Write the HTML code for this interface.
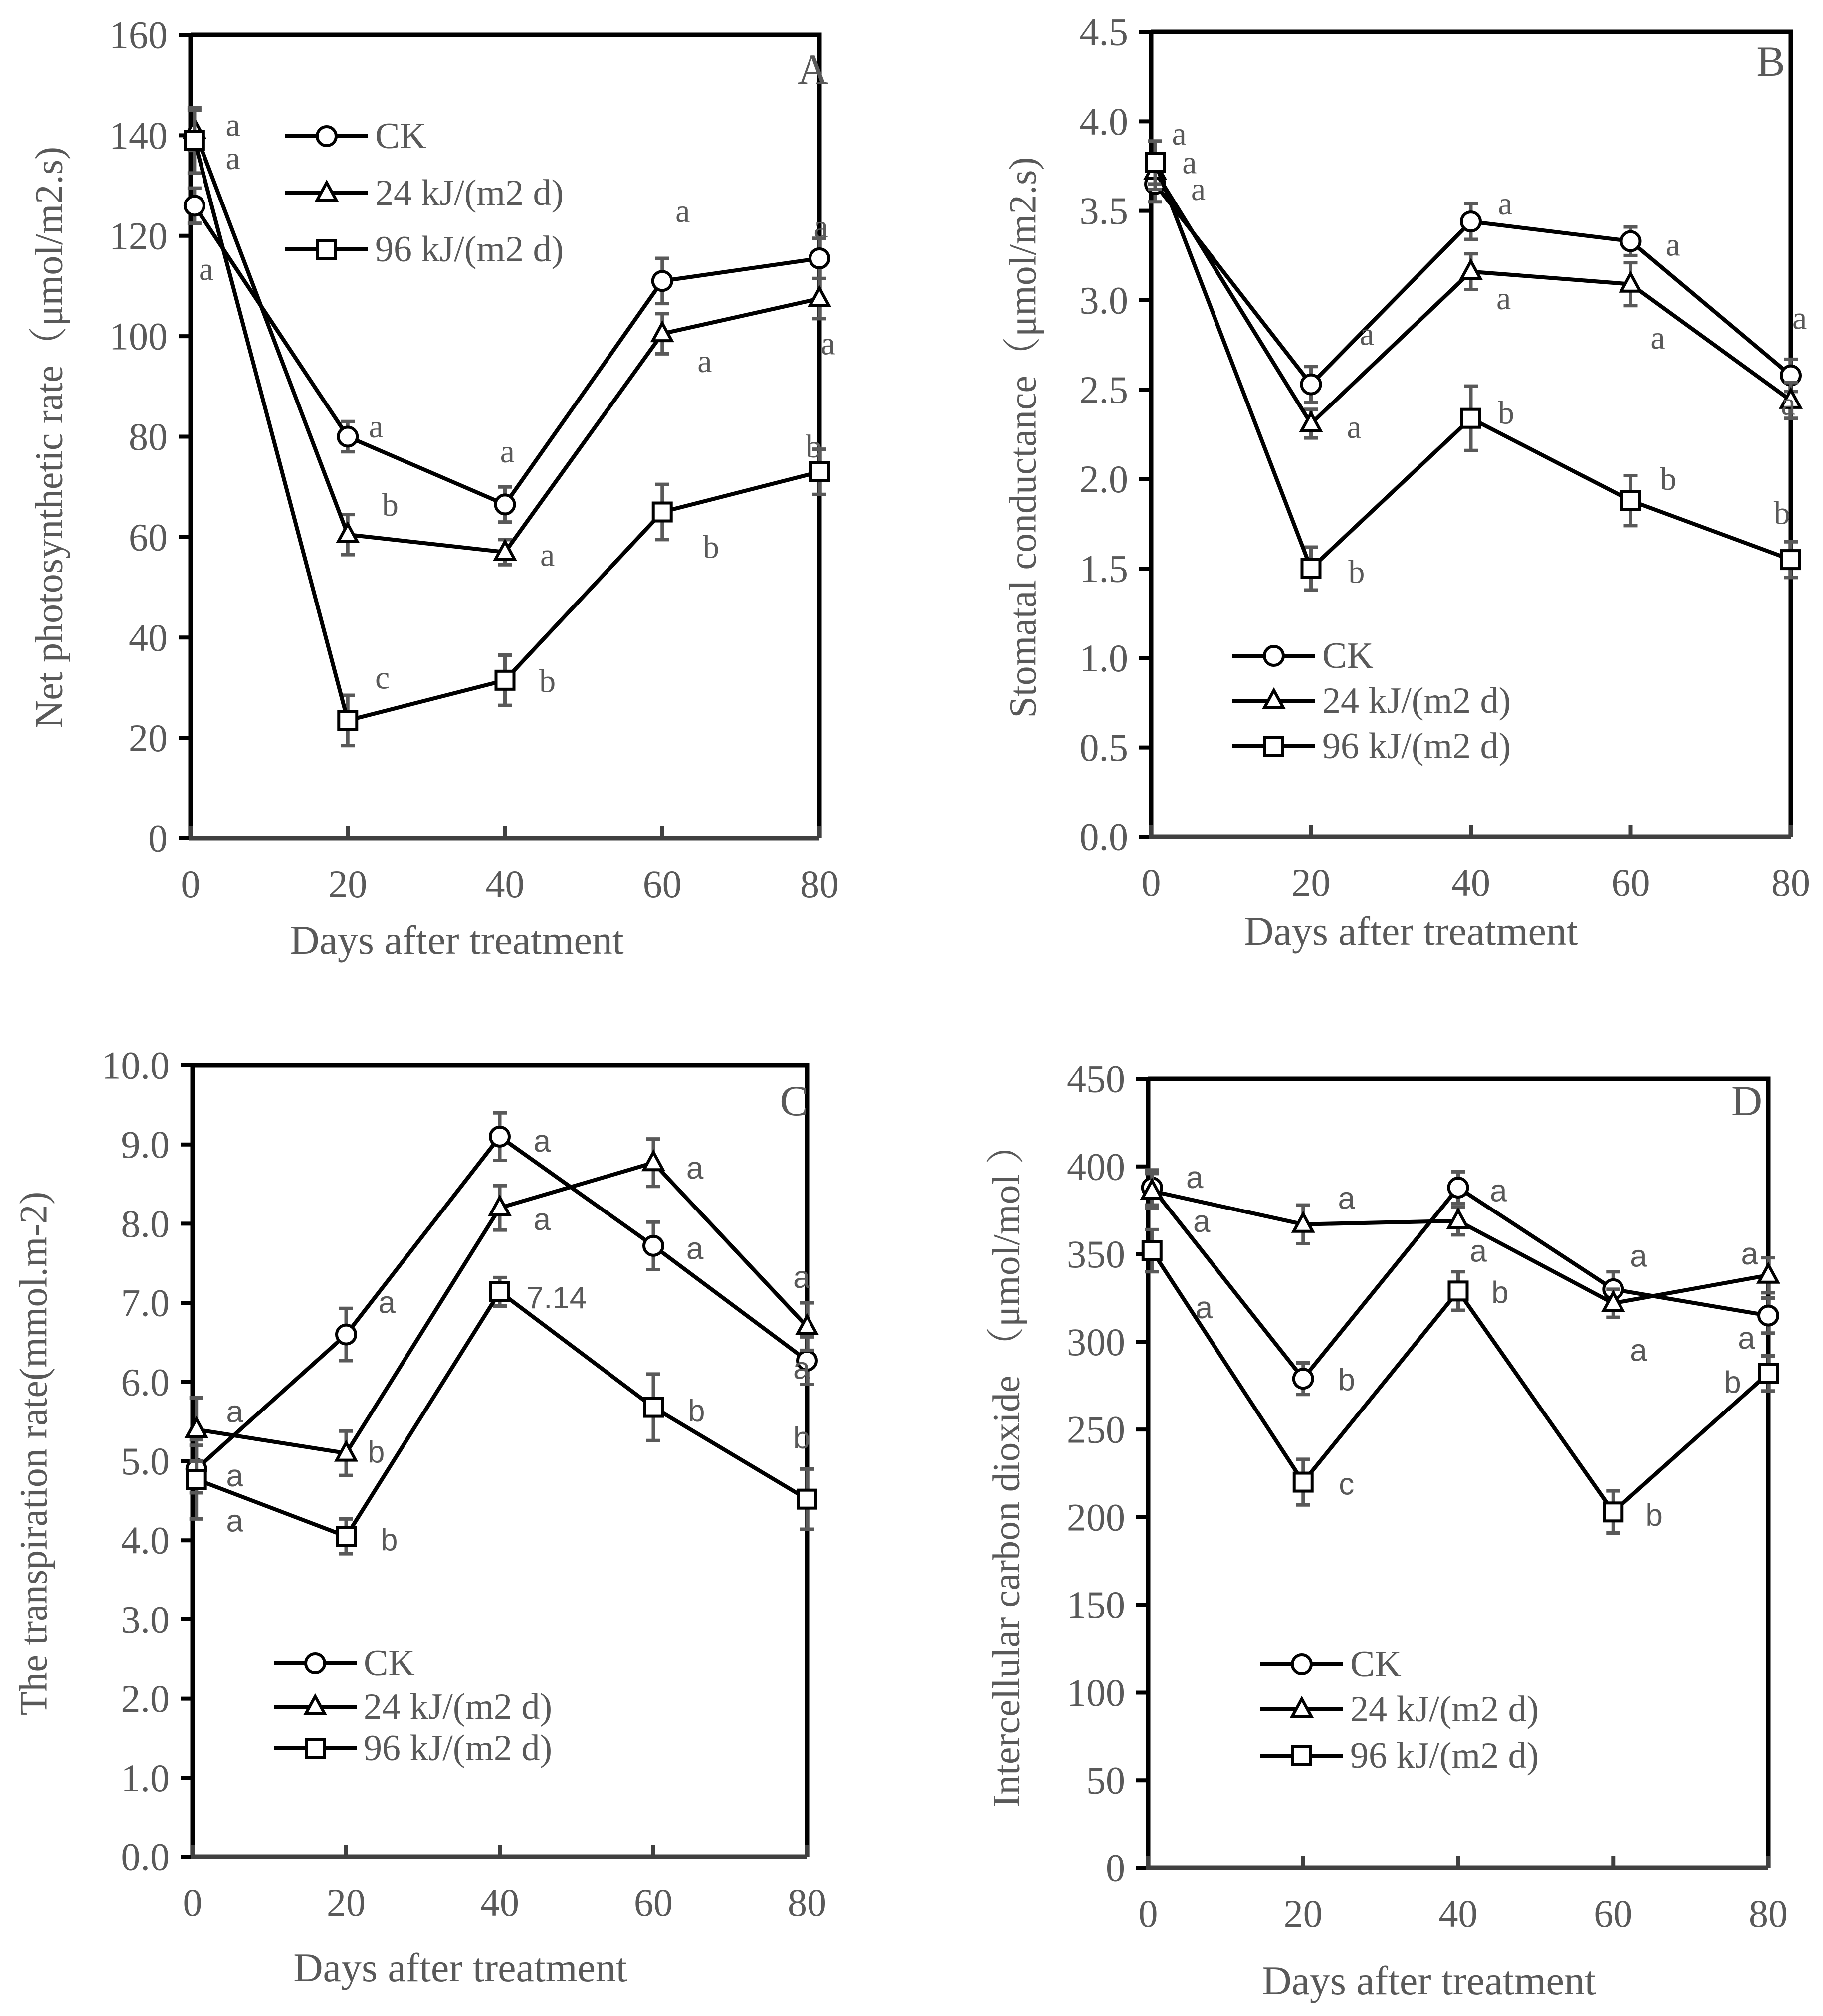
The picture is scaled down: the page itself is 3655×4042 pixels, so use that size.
<!DOCTYPE html>
<html><head><meta charset="utf-8"><style>
html,body{margin:0;padding:0;background:#fff;}
svg{display:block;}
</style></head><body>
<svg id="fig" width="3655" height="4042" viewBox="0 0 3655 4042" xmlns="http://www.w3.org/2000/svg"></svg>
<script>
// shared
const days = [0.5, 20, 40, 60, 80];
const xTicks = [0, 20, 40, 60, 80];
const seriesNames = ["CK", "24 kJ/(m2 d)", "96 kJ/(m2 d)"];
// Panel A
const aCK = [126, 80, 66.5, 111, 115.5];
const a24 = [141, 60.5, 57, 100.5, 107.5];
const a96 = [139, 23.5, 31.5, 65, 73];
const aErrCK = [3.5, 3, 3.5, 4.5, 4];
const aErr24 = [4, 4, 2.5, 4, 4];
const aErr96 = [6.5, 5, 5, 5.5, 4.5];
const aYTicks = [0, 20, 40, 60, 80, 100, 120, 140, 160];
const aLetters = [[5.4,142,"a"],[5.4,135.4,"a"],[2,113.3,"a"],[23.6,82,"a"],[25.4,66.4,"b"],[24.4,32,"c"],[40.3,77,"a"],[45.4,56.4,"a"],[45.4,31.3,"b"],[62.6,124.9,"a"],[65.4,95,"a"],[66.2,58,"b"],[80.2,121.8,"a"],[81.1,98.5,"a"],[79.3,78,"b"]];
// Panel B
const bCK = [3.65, 2.53, 3.44, 3.33, 2.58];
const b24 = [3.72, 2.31, 3.16, 3.09, 2.44];
const b96 = [3.77, 1.50, 2.34, 1.88, 1.55];
const bErrCK = [0.1, 0.1, 0.1, 0.08, 0.09];
const bErr24 = [0.1, 0.08, 0.1, 0.12, 0.1];
const bErr96 = [0.12, 0.12, 0.18, 0.14, 0.1];
const bYTicks = [0, 0.5, 1, 1.5, 2, 2.5, 3, 3.5, 4, 4.5];
const bLetters = [[3.5,3.93,"a"],[4.8,3.77,"a"],[5.9,3.62,"a"],[27,2.81,"a"],[25.4,2.29,"a"],[25.7,1.48,"b"],[44.3,3.54,"a"],[44.1,3.01,"a"],[44.4,2.37,"b"],[65.3,3.31,"a"],[63.4,2.79,"a"],[64.7,2.0,"b"],[81.1,2.9,"a"],[79.7,2.42,"a"],[78.9,1.81,"b"]];
// Panel C
const cCK = [4.9, 6.6, 9.1, 7.72, 6.27];
const c24 = [5.4, 5.1, 8.2, 8.77, 6.7];
const c96 = [4.77, 4.05, 7.14, 5.68, 4.52];
const cErrCK = [0.3, 0.33, 0.3, 0.3, 0.3];
const cErr24 = [0.4, 0.28, 0.28, 0.3, 0.3];
const cErr96 = [0.5, 0.22, 0.18, 0.42, 0.38];
const cYTicks = [0, 1, 2, 3, 4, 5, 6, 7, 8, 9, 10];
const cLetters = [[5.5,5.62,"a"],[5.5,4.81,"a"],[5.5,4.24,"a"],[25.3,7.0,"a"],[23.9,5.11,"b"],[25.6,4.0,"b"],[45.5,9.04,"a"],[45.5,8.05,"a"],[47.4,7.06,"7.14"],[65.4,8.7,"a"],[65.4,7.68,"a"],[65.6,5.63,"b"],[79.3,7.32,"a"],[79.3,6.17,"a"],[79.3,5.29,"b"]];
// Panel D
const dCK = [388, 279, 388, 330, 315];
const d24 = [386, 367, 369, 322, 338];
const d96 = [352, 220, 329, 203, 282];
const dErrCK = [10, 9, 9, 10, 10];
const dErr24 = [10, 11, 8, 8, 10];
const dErr96 = [12, 13, 11, 12, 10];
const dYTicks = [0, 50, 100, 150, 200, 250, 300, 350, 400, 450];
const dLetters = [[6.0,393.5,"a"],[6.9,368.5,"a"],[7.2,319.3,"a"],[25.6,381.7,"a"],[25.6,278.2,"b"],[25.6,218.8,"c"],[45.2,386,"a"],[42.6,351.6,"a"],[45.4,328,"b"],[63.3,348.7,"a"],[63.3,295,"a"],[65.3,201,"b"],[77.6,350,"a"],[77.2,302,"a"],[75.4,276.7,"b"]];

const NS = "http://www.w3.org/2000/svg";
const svg = document.getElementById('fig');
function mk(tag, attrs, parent, text) {
  const e = document.createElementNS(NS, tag);
  for (const k in attrs) e.setAttribute(k, attrs[k]);
  if (text !== undefined) e.textContent = text;
  parent.appendChild(e);
  return e;
}
const SERIF = '"Liberation Serif", "Noto Serif CJK SC", serif';
const SANS = '"Liberation Sans", "Noto Sans CJK SC", sans-serif';
const GREY = '#595959';

function marker(g, kind, x, y) {
  let m;
  if (kind === 0) m = mk('circle', {cx: x, cy: y, r: 19, fill: '#fff', stroke: '#000', 'stroke-width': 6}, g);
  else if (kind === 1) m = mk('polygon', {points: `${x},${y-21} ${x+19},${y+14} ${x-19},${y+14}`, fill: '#fff', stroke: '#000', 'stroke-width': 6}, g);
  else m = mk('rect', {x: x-18, y: y-18, width: 36, height: 36, fill: '#fff', stroke: '#000', 'stroke-width': 6}, g);
  return m;
}

function panel(p) {
  const g = mk('g', {}, svg);
  
  
  const ymax = p.yTicks[p.yTicks.length - 1];
  const X = d => p.L + d / 80 * (p.R - p.L);
  const Y = v => p.B - v / ymax * (p.B - p.T);
  const fr = mk('path', {d: `M${p.L},${p.T} L${p.R},${p.T} L${p.R},${p.B}`, fill: 'none', stroke: '#000', 'stroke-width': 9}, g);
  
  
  const yg = mk('g', {}, g);
  
  
  p.yTicks.forEach(v => {
    mk('line', {x1: p.L - 24, x2: p.L, y1: Y(v), y2: Y(v), stroke: '#000', 'stroke-width': 8}, yg);
    const t = mk('text', {x: p.L - 46, y: Y(v), 'text-anchor': 'end', 'dominant-baseline': 'central', 'font-family': SERIF, 'font-size': 78, fill: GREY}, yg, p.fmt(v));
    
    
  });
  mk('line', {x1: p.L, x2: p.L, y1: p.T, y2: p.B, stroke: '#000', 'stroke-width': 9}, yg);
  const xg = mk('g', {}, g);
  
  
  xTicks.forEach(d => {
    mk('line', {x1: X(d), x2: X(d), y1: p.B - 24, y2: p.B, stroke: '#404040', 'stroke-width': 8}, xg);
    const t = mk('text', {x: X(d), y: p.B + 118, 'text-anchor': 'middle', 'font-family': SERIF, 'font-size': 78, fill: GREY}, xg, String(d));
    
    
  });
  mk('line', {x1: p.L - 4, x2: p.R, y1: p.B, y2: p.B, stroke: '#404040', 'stroke-width': 9}, xg);
  const xt = mk('text', {x: p.xtx, y: p.xty, 'text-anchor': 'middle', 'font-family': SERIF, 'font-size': 82, fill: GREY}, g, 'Days after treatment');
  
  
  const yt = mk('text', {x: 0, y: 0, transform: `translate(${p.ytx},${p.yty}) rotate(-90)`, 'text-anchor': 'middle', 'dominant-baseline': 'central', 'font-family': SERIF, 'font-size': 78, fill: GREY}, g, p.ytitle);
  
  
  const pl = mk('text', {x: p.plx, y: p.ply, 'text-anchor': 'middle', 'dominant-baseline': 'central', 'font-family': SERIF, 'font-size': 86, fill: GREY}, g, p.id.slice(-1).toUpperCase());
  
  
  p.series.forEach((vals, si) => {
    const sg = mk('g', {}, g);
    
    
    const errs = p.errs[si];
    vals.forEach((v, i) => {
      const x = X(days[i]);
      const eb = mk('path', {d: `M${x},${Y(v + errs[i])} L${x},${Y(v - errs[i])} M${x-14},${Y(v + errs[i])} L${x+14},${Y(v + errs[i])} M${x-14},${Y(v - errs[i])} L${x+14},${Y(v - errs[i])}`, stroke: GREY, 'stroke-width': 7, fill: 'none'}, sg);
      
      
    });
    const ln = mk('polyline', {points: vals.map((v, i) => X(days[i]) + ',' + Y(v)).join(' '), fill: 'none', stroke: '#000', 'stroke-width': 8, 'stroke-linejoin': 'round'}, sg);
    
    
    vals.forEach((v, i) => {
      const m = marker(sg, si, X(days[i]), Y(v));
      
      
    });
  });
  p.letters.forEach(l => {
    const t = mk('text', {x: X(l[0]), y: Y(l[1]), 'text-anchor': 'middle', 'dominant-baseline': 'central', 'font-family': p.letterFont, 'font-size': p.letterFont === SANS ? 62 : 66, fill: GREY}, g, l[2]);
    
    
  });
  const lg = mk('g', {}, g);
  
  
  seriesNames.forEach((n, i) => {
    const y = p.legY[i];
    const eg = mk('g', {}, lg);
    
    
    mk('line', {x1: p.legX, x2: p.legX + 166, y1: y, y2: y, stroke: '#000', 'stroke-width': 8}, eg);
    marker(eg, i, p.legX + 83, y);
    mk('text', {x: p.legX + 180, y: y, 'dominant-baseline': 'central', 'font-family': SERIF, 'font-size': 74, fill: GREY}, eg, n);
  });
}

panel({id: 'panel-a', L: 382, R: 1643, T: 70, B: 1681, yTicks: aYTicks, fmt: v => String(v),
  series: [aCK, a24, a96], errs: [aErrCK, aErr24, aErr96], letters: aLetters, letterFont: SERIF,
  ytitle: 'Net photosynthetic rate（μmol/m2.s)', ytx: 98, yty: 877, xtx: 916, xty: 1912,
  plx: 1630, ply: 139, legX: 572, legY: [273, 387, 500]});
panel({id: 'panel-b', L: 2308, R: 3590, T: 64, B: 1678, yTicks: bYTicks, fmt: v => v.toFixed(1),
  series: [bCK, b24, b96], errs: [bErrCK, bErr24, bErr96], letters: bLetters, letterFont: SERIF,
  ytitle: 'Stomatal conductance（μmol/m2.s)', ytx: 2050, yty: 877, xtx: 2829, xty: 1894,
  plx: 3550, ply: 123, legX: 2471, legY: [1315, 1405, 1496]});
panel({id: 'panel-c', L: 386, R: 1618, T: 2136, B: 3723, yTicks: cYTicks, fmt: v => v.toFixed(1),
  series: [cCK, c24, c96], errs: [cErrCK, cErr24, cErr96], letters: cLetters, letterFont: SANS,
  ytitle: 'The transpiration rate(mmol.m-2)', ytx: 67, yty: 2914, xtx: 923, xty: 3972,
  plx: 1592, ply: 2207, legX: 549, legY: [3335, 3422, 3505]});
panel({id: 'panel-d', L: 2302, R: 3545, T: 2163, B: 3745, yTicks: dYTicks, fmt: v => String(v),
  series: [dCK, d24, d96], errs: [dErrCK, dErr24, dErr96], letters: dLetters, letterFont: SANS,
  ytitle: 'Intercellular carbon dioxide （μmol/mol ）', ytx: 2017, yty: 2940, xtx: 2865, xty: 3998,
  plx: 3502, ply: 2207, legX: 2527, legY: [3337, 3427, 3520]});
</script>
</body></html>
